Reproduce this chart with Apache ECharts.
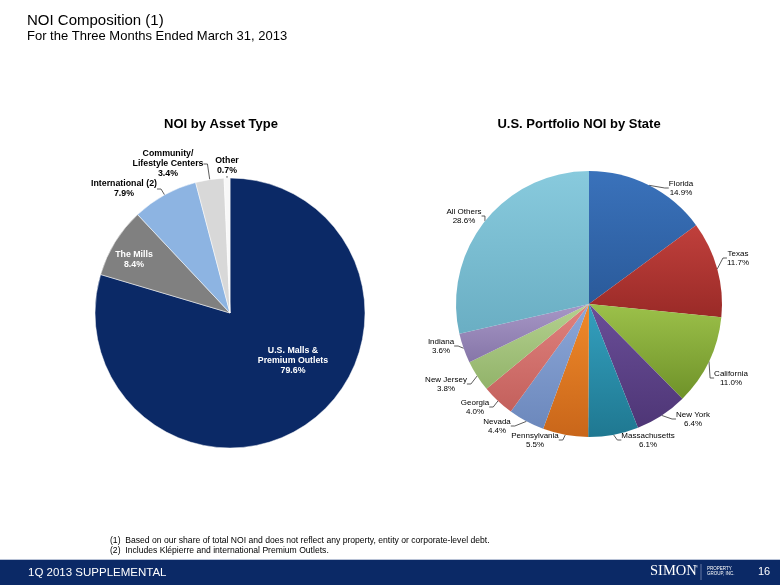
<!DOCTYPE html>
<html><head><meta charset="utf-8">
<script src="https://cdn.jsdelivr.net/npm/echarts@6/dist/echarts.min.js"></script>
<style>html,body{margin:0;padding:0;background:#fff}#c{width:780px;height:585px}</style>
</head><body><div id="c"></div>
<script>
const assetCategories = ['U.S. Malls &\nPremium Outlets', 'The Mills', 'International (2)', 'Community/\nLifestyle Centers', 'Other'];
const assetValues = [79.6, 8.4, 7.9, 3.4, 0.7];

const stateCategories = ['Florida', 'Texas', 'California', 'New York', 'Massachusetts', 'Pennsylvania', 'Nevada', 'Georgia', 'New Jersey', 'Indiana', 'All Others'];
const stateValues = [14.9, 11.7, 11.0, 6.4, 6.1, 5.5, 4.4, 4.0, 3.8, 3.6, 28.6];

// styling / label placement (layout only)
const assetColors = ['#0b2966', '#808080', '#8db4e2', '#d8d8d8', '#f8f8f8'];
const assetLabelAt = [[293, 361], [134, 260], [124, 189], [168, 164], [227, 166]];
const stateColors = [['#3a72bb','#2a5a9a'], ['#c0403c','#9a2a27'], ['#9cc14a','#6f9229'], ['#6a4e98','#4e3676'], ['#34a0bf','#1f7891'], ['#f08a2a','#c9661a'], ['#8ca7d8','#6c88bc'], ['#e0827e','#c3605c'], ['#b4d18f','#92b36a'], ['#a797c6','#8676a8'], ['#88cadd','#6aaec3']];
const stateLabelAt = [[681, 188], [738, 258], [731, 378], [693, 419], [648, 440], [535, 440], [497, 426], [475, 407], [446, 384], [441, 346], [464, 216]];

const chart = echarts.init(document.getElementById('c'), null, {renderer: 'canvas'});
const FONT = 'Liberation Sans, Arial, sans-serif';

function grad(c) {
  return new echarts.graphic.LinearGradient(0, 0, 0, 1, [{offset: 0, color: c[0]}, {offset: 1, color: c[1]}]);
}

const assetData = assetCategories.map((n, i) => {
  const d = {name: n, value: assetValues[i], itemStyle: {color: assetColors[i]}};
  if (i < 2) {
    d.label = {position: 'inside', color: '#fff'};
    d.labelLine = {show: false};
  }
  return d;
});

const stateData = stateCategories.map((n, i) => ({name: n, value: stateValues[i], itemStyle: {color: grad(stateColors[i])}}));

function placeAt(arr) {
  return function (p) {
    const a = arr[p.dataIndex];
    return {x: a[0], y: a[1], align: 'center', verticalAlign: 'middle'};
  };
}

chart.setOption({
  animation: false,
  title: [
    {text: 'NOI Composition (1)', left: 27, top: 13, padding: 0, textStyle: {fontFamily: FONT, fontSize: 15, fontWeight: 'normal', color: '#000'}},
    {text: 'For the Three Months Ended March 31, 2013', left: 27, top: 30, padding: 0, textStyle: {fontFamily: FONT, fontSize: 13, fontWeight: 'normal', color: '#000'}},
    {text: 'NOI by Asset Type', left: 221, top: 118, padding: 0, textAlign: 'center', textStyle: {fontFamily: FONT, fontSize: 13, fontWeight: 'bold', color: '#000'}},
    {text: 'U.S. Portfolio NOI by State', left: 579, top: 118, padding: 0, textAlign: 'center', textStyle: {fontFamily: FONT, fontSize: 13, fontWeight: 'bold', color: '#000'}}
  ],
  series: [
    {
      type: 'pie', center: [230, 313], radius: 135, startAngle: 90, clockwise: true,
      data: assetData,
      itemStyle: {borderColor: '#fff', borderWidth: 0.5},
      label: {formatter: p => p.name + '\n' + p.value.toFixed(1) + '%', fontFamily: FONT, fontSize: 8.8, fontWeight: 'bold', color: '#000', lineHeight: 10, align: 'center'},
      labelLine: {length: 4, length2: 4, lineStyle: {color: '#333', width: 0.8}},
      labelLayout: placeAt(assetLabelAt)
    },
    {
      type: 'pie', center: [589, 304], radius: 133, startAngle: 90, clockwise: true,
      data: stateData,
      label: {formatter: p => p.name + '\n' + p.value.toFixed(1) + '%', fontFamily: FONT, fontSize: 8, color: '#000', lineHeight: 9, align: 'center'},
      labelLine: {length: 4, length2: 4, lineStyle: {color: '#333', width: 0.8}},
      labelLayout: placeAt(stateLabelAt)
    }
  ],
  graphic: [
    {type: 'text', left: 110, top: 536, style: {text: '(1)  Based on our share of total NOI and does not reflect any property, entity or corporate-level debt.', font: '8.6px ' + FONT, fill: '#000'}},
    {type: 'text', left: 110, top: 546, style: {text: '(2)  Includes Klépierre and international Premium Outlets.', font: '8.6px ' + FONT, fill: '#000'}},
    {type: 'rect', shape: {x: 0, y: 560, width: 780, height: 25}, style: {fill: '#0b2966'}},
    {type: 'line', shape: {x1: 0, y1: 559.5, x2: 780, y2: 559.5}, style: {stroke: '#b8c2d6', lineWidth: 1}},
    {type: 'text', left: 28, top: 567, style: {text: '1Q 2013 SUPPLEMENTAL', font: '11.5px ' + FONT, fill: '#fff'}},
    {type: 'text', left: 650, top: 564, style: {text: 'SIMON', font: '14.5px Liberation Serif, serif', fill: '#fff'}},
    {type: 'text', left: 695, top: 565, style: {text: '®', font: '4px ' + FONT, fill: '#fff'}},
    {type: 'line', shape: {x1: 701, y1: 564, x2: 701, y2: 580}, style: {stroke: '#8c9bc0', lineWidth: 0.7}},
    {type: 'text', left: 707, top: 566, style: {text: 'PROPERTY\nGROUP, INC.', font: '4.5px ' + FONT, fill: '#fff', lineHeight: 5}},
    {type: 'text', left: 758, top: 566, style: {text: '16', font: '11px ' + FONT, fill: '#fff'}}
  ]
});
</script></body></html>
